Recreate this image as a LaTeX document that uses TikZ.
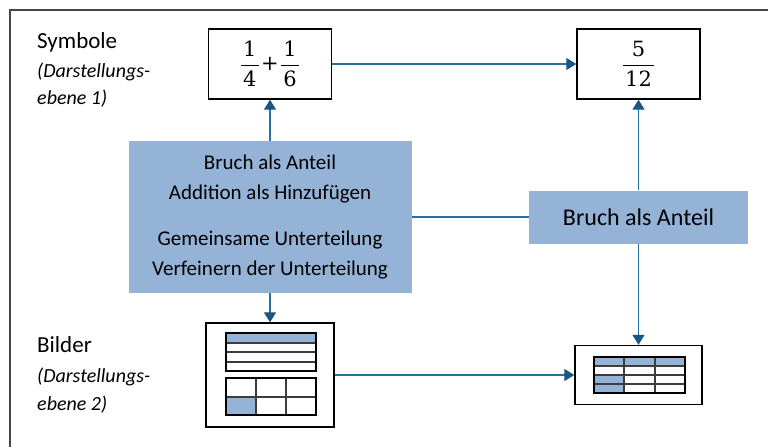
\documentclass[tikz,border=0pt]{standalone}
\usepackage{fontspec}
\usepackage{amsmath}
\setmainfont{Carlito}
\newfontfamily\fracfont{DejaVu Serif}
\usetikzlibrary{arrows.meta}
\definecolor{conceptfill}{RGB}{149,179,215}
\definecolor{linkblue}{RGB}{42,112,158}
\definecolor{tipblue}{RGB}{24,86,132}
\definecolor{framegray}{RGB}{70,70,70}
\definecolor{gridgray}{RGB}{60,60,60}

% fraction with serif digits and a heavier rule
\newcommand{\symfrac}[2]{\genfrac{}{}{1.5pt}{0}{\mkern2mu\text{\fracfont #1}\mkern2mu}{\mkern2mu\text{\fracfont #2}\mkern2mu}}
\newcommand{\symplus}{\mkern1mu\text{\fracfont +}\mkern1mu}

\tikzset{
  repbox/.style={draw=black, line width=1.4pt, fill=white, inner sep=0pt},
  concept/.style={fill=conceptfill, inner sep=0pt, align=center, text=black},
  link/.style={draw=linkblue, line width=1.3pt},
  arrowlink/.style={link, -{Triangle[length=10pt,width=12pt,color=tipblue]}},
  level/.style={anchor=base west, inner sep=0pt, font=\fontsize{23}{26}\selectfont},
  levelsub/.style={anchor=base west, inner sep=0pt, font=\fontsize{20}{24}\selectfont\itshape},
  symtext/.style={font=\fontsize{21}{25}\selectfont},
  gridline/.style={draw=gridgray, line width=1.2pt},
  gridframe/.style={draw=black, line width=1.5pt},
}

\begin{document}
\begin{tikzpicture}[x=1pt, y=-1pt]
\useasboundingbox (0,0) rectangle (768,447);

% outer frame
\draw[framegray, line width=1.2pt] (768,10) -- (10,10) -- (10,447);

% level labels
\node[level] (sym) at (37,48) {Symbole};
\node[levelsub] (sym1) at (37,77) {(Darstellungs-};
\node[levelsub] (sym2) at (37,104) {ebene 1)};
\node[level] (bil) at (37,352) {Bilder};
\node[levelsub] (bil1) at (37,382) {(Darstellungs-};
\node[levelsub] (bil2) at (37,410) {ebene 2)};

% symbolic representations
\node[repbox, minimum width=123pt, minimum height=70pt, symtext]
  (sum) at (270,64) {$\symfrac{1}{4}\symplus\symfrac{1}{6}$};
\node[repbox, minimum width=123pt, minimum height=70pt, symtext]
  (res) at (638.5,64) {$\symfrac{5}{12}$};

% concept boxes
\node[concept, minimum width=283pt, minimum height=152pt, font=\fontsize{21}{30}\selectfont]
  (cb) at (270,217) {Bruch als Anteil\\Addition als Hinzufügen\\[16pt]Gemeinsame Unterteilung\\Verfeinern der Unterteilung};
\node[concept, minimum width=219pt, minimum height=53pt, font=\fontsize{24}{28}\selectfont]
  (rb) at (638.5,217) {Bruch als Anteil};

% pictorial representations
\node[repbox, minimum width=128pt, minimum height=104pt] (pic1) at (270,375) {};
\node[repbox, minimum width=127pt, minimum height=59pt] (pic2) at (638.5,375) {};

% strip model of 1/4
\fill[conceptfill] (226,333) rectangle (316,343);
\draw[gridline] (226,343) -- (316,343) (226,352) -- (316,352) (226,362) -- (316,362);
\draw[gridframe] (226,333) rectangle (316,371);
% area model of 1/6
\fill[conceptfill] (226,397) rectangle (256,415);
\draw[gridline] (256,378) -- (256,415) (286,378) -- (286,415) (226,397) -- (316,397);
\draw[gridframe] (226,378) rectangle (316,415);

% area model of 5/12
\fill[conceptfill] (594,357) rectangle (685,366);
\fill[conceptfill] (594,375) rectangle (624,393);
\draw[gridline] (624,357) -- (624,393) (655,357) -- (655,393)
                (594,366) -- (685,366) (594,375) -- (685,375) (594,384) -- (685,384);
\draw[gridframe] (594,357) rectangle (685,393);

% connectors
\draw[arrowlink] (sum.east) -- (res.west);
\draw[arrowlink] (cb.north) -- (sum.south);
\draw[arrowlink] (cb.south) -- (pic1.north);
\draw[link] (cb.east) -- (rb.west);
\draw[arrowlink] (rb.north) -- (res.south);
\draw[arrowlink] (rb.south) -- (pic2.north);
\draw[arrowlink] (pic1.east) -- (pic2.west);
\end{tikzpicture}
\end{document}
